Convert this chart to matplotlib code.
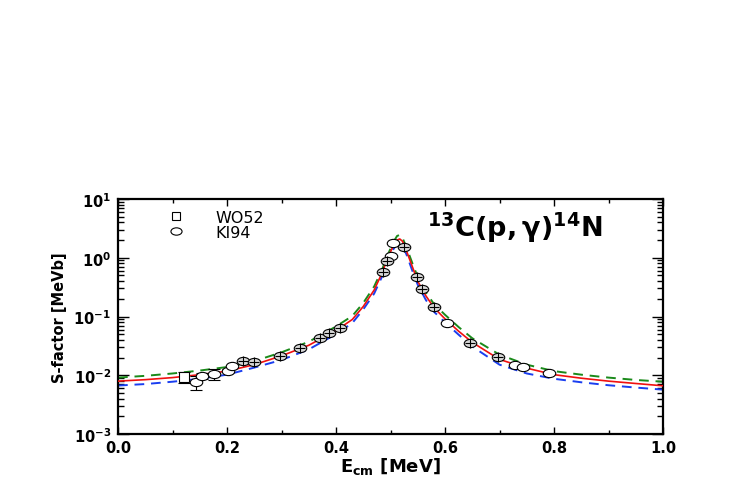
import matplotlib
matplotlib.use('Agg')
import matplotlib.pyplot as plt
from matplotlib.path import Path
from matplotlib.transforms import Affine2D
from matplotlib.lines import Line2D
from matplotlib.ticker import MultipleLocator, LogLocator, NullFormatter

plt.rcParams['font.family'] = ['DejaVu Sans']
plt.rcParams['mathtext.fontset'] = 'dejavusans'

# ---------------- data ----------------
e_curve = [0.00, 0.05, 0.10, 0.15, 0.20, 0.25, 0.30, 0.35, 0.40, 0.43, 0.45, 0.47,
           0.485, 0.495, 0.505, 0.512, 0.517, 0.522, 0.53, 0.54, 0.55, 0.565, 0.58,
           0.60, 0.625, 0.65, 0.70, 0.75, 0.80, 0.85, 0.90, 0.95, 1.00]
s_red = [0.00794, 0.00841, 0.00912, 0.01023, 0.01175, 0.01514, 0.02138, 0.03236,
         0.05754, 0.0891, 0.148, 0.282, 0.562, 1.00, 1.585, 1.995, 2.089, 1.905,
         1.259, 0.708, 0.398, 0.224, 0.141, 0.0912, 0.0562, 0.0363, 0.0186, 0.0132,
         0.01023, 0.00891, 0.00794, 0.00724, 0.00661]
s_green = [0.00912, 0.00977, 0.01072, 0.01202, 0.0138, 0.01738, 0.02455, 0.03715,
           0.0676, 0.1023, 0.170, 0.324, 0.646, 1.122, 1.820, 2.344, 2.455, 2.188,
           1.445, 0.813, 0.468, 0.257, 0.162, 0.107, 0.0661, 0.0427, 0.0224, 0.01514,
           0.01175, 0.01023, 0.00912, 0.00832, 0.00776]
s_blue = [0.00668, 0.00708, 0.00776, 0.00871, 0.01023, 0.01349, 0.0182, 0.02754,
          0.0501, 0.0776, 0.132, 0.2455, 0.490, 0.871, 1.380, 1.738, 1.820, 1.660,
          1.096, 0.603, 0.347, 0.1905, 0.120, 0.0794, 0.0490, 0.0309, 0.01514,
          0.01072, 0.00871, 0.00759, 0.00676, 0.00617, 0.00569]

# WO52 data
wo_e = [0.121]
wo_s = [0.0095]
wo_lo = [0.0075]
wo_hi = [0.0113]

# KI94 data (open symbols)
ki_open_e = [0.143, 0.155, 0.177, 0.201, 0.210, 0.501, 0.505, 0.604, 0.728, 0.744, 0.790]
ki_open_s = [0.0078, 0.0098, 0.0104, 0.0120, 0.0146, 1.08, 1.78, 0.0764, 0.0150, 0.0140, 0.0110]
ki_open_lo = [0.0056, 0.0088, 0.0083, 0.0112, 0.0140, 1.08, 1.78, 0.0764, 0.0150, 0.0140, 0.0110]
ki_open_hi = [0.0098, 0.0108, 0.0128, 0.0128, 0.0152, 1.08, 1.78, 0.0764, 0.0150, 0.0140, 0.0110]

# KI94 data (points with error crosses inside the symbol)
ki_x_e = [0.230, 0.250, 0.297, 0.334, 0.371, 0.388, 0.407, 0.487, 0.494, 0.524,
          0.548, 0.557, 0.580, 0.645, 0.697]
ki_x_s = [0.0178, 0.0170, 0.0215, 0.0295, 0.0436, 0.0516, 0.063, 0.58, 0.87, 1.51,
          0.464, 0.294, 0.143, 0.0355, 0.0202]

x_ticks = [0.0, 0.2, 0.4, 0.6, 0.8, 1.0]
x_tick_labels = ['0.0', '0.2', '0.4', '0.6', '0.8', '1.0']
y_ticks = [1e-3, 1e-2, 1e-1, 1e0, 1e1]
y_tick_labels = [r'$\mathbf{10^{-3}}$', r'$\mathbf{10^{-2}}$', r'$\mathbf{10^{-1}}$',
                 r'$\mathbf{10^{0}}$', r'$\mathbf{10^{1}}$']

# ---------------- figure ----------------
fig = plt.figure(figsize=(7.47, 4.85), dpi=100)
ax = fig.add_axes([118/747, 1-435/485, 545/747, 235/485])

ax.plot(e_curve, s_green, color='#1a8a1a', lw=1.4, ls=(0, (5, 3.5)), zorder=2)
ax.plot(e_curve, s_blue, color='#1a3ef0', lw=1.4, ls=(0, (5, 3.5)), zorder=2)
ax.plot(e_curve, s_red, color='#f01010', lw=1.2, ls='-', zorder=3)

ell = Path.unit_circle().transformed(Affine2D().scale(1.0, 0.66))

# WO52 squares
ax.errorbar(wo_e, wo_s,
            yerr=[[s - l for s, l in zip(wo_s, wo_lo)], [h - s for s, h in zip(wo_s, wo_hi)]],
            fmt='s', ms=6.5, mfc='white', mec='black', mew=0.8, ecolor='black',
            elinewidth=0.8, capsize=4, capthick=0.8, zorder=4)

# KI94 open symbols
ax.errorbar(ki_open_e, ki_open_s,
            yerr=[[s - l for s, l in zip(ki_open_s, ki_open_lo)],
                  [h - s for s, h in zip(ki_open_s, ki_open_hi)]],
            fmt='none', ecolor='black', elinewidth=0.8, capsize=4, capthick=0.8, zorder=4)
ax.plot(ki_open_e, ki_open_s, ls='none', marker=ell, ms=9, mfc='white', mec='black',
        mew=0.8, zorder=5)

# KI94 crossed symbols
ax.plot(ki_x_e, ki_x_s, ls='none', marker=ell, ms=9, mfc='#d8d8d8', mec='black',
        mew=0.8, zorder=5)
ax.plot(ki_x_e, ki_x_s, ls='none', marker='+', ms=7, mec='black', mew=0.8, zorder=6)

ax.set_xlim(0.0, 1.0)
ax.set_yscale('log')
ax.set_ylim(1e-3, 1e1)

ax.set_xticks(x_ticks)
ax.set_xticklabels(x_tick_labels, fontweight='bold', fontsize=10.5)
ax.xaxis.set_minor_locator(MultipleLocator(0.1))
ax.set_yticks(y_ticks)
ax.set_yticklabels(y_tick_labels, fontsize=10.5)
ax.yaxis.set_minor_locator(LogLocator(base=10, subs=range(2, 10), numticks=20))
ax.yaxis.set_minor_formatter(NullFormatter())

ax.tick_params(axis='both', which='both', direction='in', top=True, right=True,
               colors='black', width=1.0)
ax.tick_params(axis='x', which='major', length=5, pad=4)
ax.tick_params(axis='x', which='minor', length=3)
ax.tick_params(axis='y', which='major', length=8, pad=5)
ax.tick_params(axis='y', which='minor', length=4.5)
for sp in ax.spines.values():
    sp.set_linewidth(1.6)

ax.set_xlabel(r'$\mathbf{E_{cm}}$ [MeV]', fontsize=13, fontweight='bold', labelpad=0)
ax.set_ylabel('S-factor [MeVb]', fontsize=10.5, fontweight='bold', labelpad=5)

ax.text(0.728, 0.881, r'$\mathbf{^{13}C(p,\gamma)^{14}N}$', transform=ax.transAxes,
        ha='center', va='center', fontsize=19.5, fontweight='bold')

handles = [Line2D([], [], ls='none', marker='s', ms=6, mfc='white', mec='black', mew=0.8),
           Line2D([], [], ls='none', marker=ell, ms=8, mfc='white', mec='black', mew=0.8)]
leg = ax.legend(handles, ['WO52', 'KI94'], loc='upper left',
                bbox_to_anchor=(0.091, 0.955), frameon=False, fontsize=11.5,
                handlelength=1.0, handletextpad=2.0, labelspacing=0.0,
                borderpad=0.0, borderaxespad=0.0)

fig.savefig('out.png', dpi=100)
